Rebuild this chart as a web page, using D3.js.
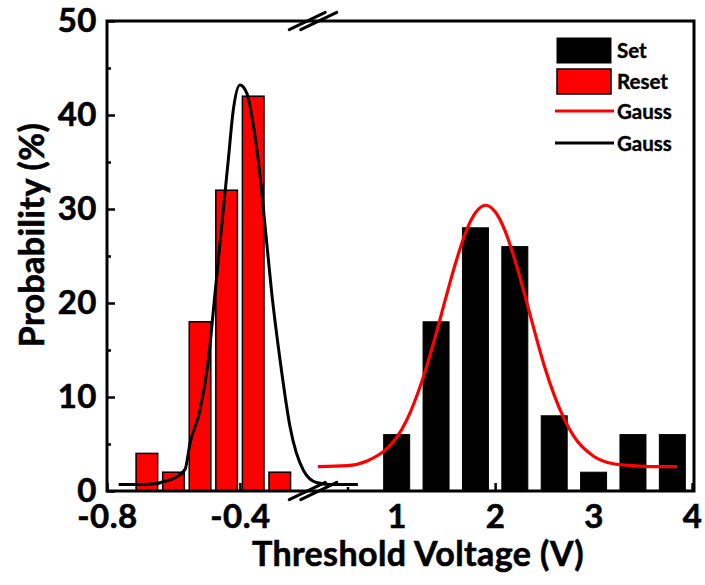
<!DOCTYPE html>
<html>
<head>
<meta charset="utf-8">
<script src="https://cdn.jsdelivr.net/npm/d3@7"></script>
<style>
  html, body { margin: 0; padding: 0; background: #ffffff; }
  svg { display: block; }
  text { font-family: Lato, "Open Sans", sans-serif; font-weight: 700; fill: #000; stroke: #000; stroke-width: 0.6px; }
</style>
</head>
<body>
<svg id="chart" width="705" height="585"></svg>
<script>
// ---------------- data ----------------
const resetCenters = [-0.68, -0.60, -0.52, -0.44, -0.36, -0.28];
const resetValues  = [4, 2, 18, 32, 42, 2];
const setCenters   = [1.0, 1.4, 1.8, 2.2, 2.6, 3.0, 3.4, 3.8];
const setValues    = [6, 18, 28, 26, 8, 2, 6, 6];

// Gauss fit of Reset (black curve)
const gaussResetX = [-0.765, -0.70, -0.65, -0.63, -0.595, -0.565, -0.55, -0.52, -0.495, -0.475, -0.455, -0.435, -0.42, -0.40, -0.379, -0.359, -0.339, -0.324, -0.304, -0.279, -0.249, -0.209, -0.17, -0.13, -0.045];
const gaussResetY = [0.7, 0.7, 0.8, 1.0, 1.4, 2.3, 5.1, 8.6, 13.9, 21.0, 28.1, 35.2, 40.5, 43.2, 42.3, 38.8, 33.4, 28.1, 21.0, 13.9, 6.8, 2.2, 0.9, 0.7, 0.7];

// Gauss fit of Set (red curve)
const gaussSetX = [0.2, 0.5, 0.7, 0.9, 1.0, 1.1, 1.2, 1.3, 1.4, 1.5, 1.6, 1.7, 1.8, 1.904, 2.0, 2.1, 2.2, 2.3, 2.4, 2.5, 2.6, 2.7, 2.8, 3.0, 3.2, 3.4, 3.6, 3.85];
const gaussSetY = [2.6, 2.7, 3.2, 4.5, 5.7, 7.5, 10.0, 13.1, 16.7, 20.6, 24.3, 27.5, 29.6, 30.4, 29.7, 27.7, 24.6, 20.9, 17.0, 13.3, 10.2, 7.7, 5.8, 3.7, 2.9, 2.7, 2.6, 2.6];

const yTicks       = [0, 10, 20, 30, 40, 50];
const yMinorTicks  = [5, 15, 25, 35, 45];
const xLeftTicks   = [-0.8, -0.4];
const xLeftMinor   = [-0.6];
const xRightTicks  = [1, 2, 3, 4];
const xRightMinor  = [0.5, 1.5, 2.5, 3.5];

const legendLabels = ["Set", "Reset", "Gauss", "Gauss"];
const xTitle = "Threshold Voltage (V)";
const yTitle = "Probability (%)";

// ---------------- layout ----------------
const plotL = 107, plotR = 694, plotT = 21, plotB = 491, breakX = 313;
const resetBarW = 0.065;   // in V (left segment)
const setBarW = 0.264;     // in V (right segment)

const svg = d3.select("#chart");

const xL = d3.scaleLinear().domain([-0.8, -0.18]).range([plotL, breakX]);
const xR = d3.scaleLinear().domain([0.15, 4.02]).range([breakX, plotR]);
const y  = d3.scaleLinear().domain([0, 50]).range([plotB, plotT]);

const tickFont = 33;

// ---------- axes (ticks inside) ----------
function styleAxis(g) {
  g.select(".domain").remove();
  g.selectAll(".tick line").attr("stroke", "#000").attr("stroke-width", 2.5);
  g.selectAll(".tick text")
    .style("font-size", tickFont + "px")
    .style("font-family", "Lato, sans-serif")
    .style("font-weight", 700)
    .style("letter-spacing", "0.5px")
    .attr("fill", "#000").attr("stroke", "#000").attr("stroke-width", 0.6);
}

svg.append("g").attr("transform", `translate(${plotL},0)`)
  .call(d3.axisLeft(y).tickValues(yTicks).tickSize(-8).tickPadding(10).tickFormat(d3.format("d")))
  .call(styleAxis);
svg.append("g").attr("transform", `translate(${plotL},0)`)
  .call(d3.axisLeft(y).tickValues(yMinorTicks).tickSize(-4).tickFormat(""))
  .call(styleAxis);

svg.append("g").attr("transform", `translate(0,${plotB})`)
  .call(d3.axisBottom(xL).tickValues(xLeftTicks).tickSize(-8).tickPadding(14).tickFormat(d3.format(".1f")))
  .call(styleAxis);
svg.append("g").attr("transform", `translate(0,${plotB})`)
  .call(d3.axisBottom(xL).tickValues(xLeftMinor).tickSize(-4).tickFormat(""))
  .call(styleAxis);
svg.append("g").attr("transform", `translate(0,${plotB})`)
  .call(d3.axisBottom(xR).tickValues(xRightTicks).tickSize(-8).tickPadding(14).tickFormat(d3.format("d")))
  .call(styleAxis);
svg.append("g").attr("transform", `translate(0,${plotB})`)
  .call(d3.axisBottom(xR).tickValues(xRightMinor).tickSize(-4).tickFormat(""))
  .call(styleAxis);

// hyphen minus like the original
svg.selectAll(".tick text").each(function() {
  const t = d3.select(this); t.text(t.text().replace("\u2212", "-"));
});

// ---------- bars ----------
const resetData = resetCenters.map((c, i) => ({c, v: resetValues[i]}));
const setData = setCenters.map((c, i) => ({c, v: setValues[i]}));

svg.append("g").selectAll("rect").data(resetData).join("rect")
  .attr("x", d => xL(d.c - resetBarW / 2))
  .attr("width", d => xL(d.c + resetBarW / 2) - xL(d.c - resetBarW / 2))
  .attr("y", d => y(d.v))
  .attr("height", d => y(0) - y(d.v))
  .attr("fill", "#ff0000").attr("stroke", "#000").attr("stroke-width", 1.5);

svg.append("g").selectAll("rect").data(setData).join("rect")
  .attr("x", d => xR(d.c - setBarW / 2))
  .attr("width", d => xR(d.c + setBarW / 2) - xR(d.c - setBarW / 2))
  .attr("y", d => y(d.v))
  .attr("height", d => y(0) - y(d.v))
  .attr("fill", "#000").attr("stroke", "#000").attr("stroke-width", 1);

// ---------- Gauss curves ----------
const lineL = d3.line().x(d => xL(d[0])).y(d => y(d[1])).curve(d3.curveMonotoneX);
const lineR = d3.line().x(d => xR(d[0])).y(d => y(d[1])).curve(d3.curveMonotoneX);

svg.append("path").datum(gaussResetX.map((x, i) => [x, gaussResetY[i]]))
  .attr("d", lineL).attr("fill", "none").attr("stroke", "#000").attr("stroke-width", 3);
svg.append("path").datum(gaussSetX.map((x, i) => [x, gaussSetY[i]]))
  .attr("d", lineR).attr("fill", "none").attr("stroke", "#ff0000").attr("stroke-width", 3.2);

// ---------- frame ----------
svg.append("rect").attr("x", plotL).attr("y", plotT)
  .attr("width", plotR - plotL).attr("height", plotB - plotT)
  .attr("fill", "none").attr("stroke", "#000").attr("stroke-width", 3);

// ---------- axis break marks ----------
[plotT, plotB].forEach(yy => {
  [-5.75, 5.75].forEach(off => {
    svg.append("line")
      .attr("x1", breakX + off - 18).attr("y1", yy + 8.7)
      .attr("x2", breakX + off + 18).attr("y2", yy - 8.7)
      .attr("stroke", "#000").attr("stroke-width", 3).attr("stroke-linecap", "round");
  });
});

// ---------- axis titles ----------
svg.append("text").attr("x", 418).attr("y", 566).attr("text-anchor", "middle")
  .style("font-size", "34px").style("letter-spacing", "0.4px").text(xTitle);
svg.append("text").attr("transform", "translate(44,235) rotate(-90)").attr("text-anchor", "middle")
  .style("font-size", "34px").style("letter-spacing", "0.4px").text(yTitle);

// ---------- legend ----------
const lg = svg.append("g");
const legX = 557, legW = 54, textX = 617;
// Set swatch
lg.append("rect").attr("x", legX).attr("y", 38).attr("width", legW).attr("height", 25)
  .attr("fill", "#000").attr("stroke", "#000").attr("stroke-width", 1);
// Reset swatch
lg.append("rect").attr("x", legX).attr("y", 69).attr("width", legW).attr("height", 25)
  .attr("fill", "#ff0000").attr("stroke", "#000").attr("stroke-width", 1.5);
// Gauss lines
lg.append("line").attr("x1", 555).attr("x2", 614).attr("y1", 111).attr("y2", 111)
  .attr("stroke", "#ff0000").attr("stroke-width", 3);
lg.append("line").attr("x1", 555).attr("x2", 614).attr("y1", 143).attr("y2", 143)
  .attr("stroke", "#000").attr("stroke-width", 3);
const legY = [51, 82, 112, 144];
legendLabels.forEach((t, i) => {
  lg.append("text").attr("x", textX).attr("y", legY[i]).attr("dy", "0.35em")
    .style("font-size", "20.5px").style("stroke-width", "0.4px").text(t);
});
</script>
</body>
</html>
